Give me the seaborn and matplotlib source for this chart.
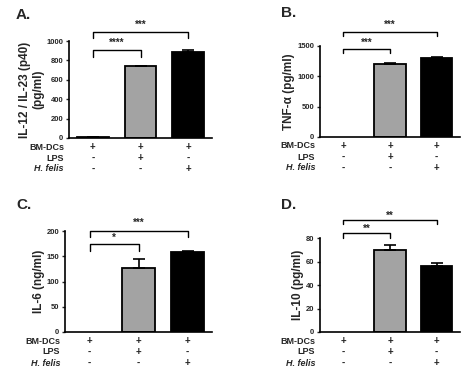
import matplotlib
matplotlib.use("Agg")
import matplotlib.pyplot as plt
import seaborn as sns
import pandas as pd
import numpy as np

sns.set_style("white")
plt.rcParams['font.family'] = ['Liberation Sans', 'DejaVu Sans']
plt.rcParams['font.weight'] = 'bold'

groups = ["ctrl", "LPS", "H. felis"]
row_labels = ["BM-DCs", "LPS", "H. felis"]
row_signs = [["+", "+", "+"], ["-", "+", "-"], ["-", "-", "+"]]
bar_colors = ["#ffffff", "#a3a3a3", "#000000"]

il12_mean = [8, 740, 885]
il12_err = [2, 5, 25]
tnf_mean = [0, 1200, 1305]
tnf_err = [0, 12, 6]
il6_mean = [0, 127, 158]
il6_err = [0, 18, 3]
il10_mean = [0, 70, 56]
il10_err = [0, 4, 3]

panels = [
    dict(letter="A.", mean=il12_mean, err=il12_err, ylim=1000, ticks=[0, 200, 400, 600, 800, 1000],
         ylabel="IL-12 / IL-23 (p40)\n(pg/ml)", box=(69, 212, 41, 138), letter_xy=(16, 15),
         sig=[("****", 1, 0.91, 0.84, 0.98), ("***", 2, 1.09, 1.03, 1.17)]),
    dict(letter="B.", mean=tnf_mean, err=tnf_err, ylim=1500, ticks=[0, 500, 1000, 1500],
         ylabel="TNF-α (pg/ml)", box=(320, 460, 46, 137), letter_xy=(281, 13),
         sig=[("***", 1, 0.97, 0.92, 1.03), ("***", 2, 1.15, 1.11, 1.23)]),
    dict(letter="C.", mean=il6_mean, err=il6_err, ylim=200, ticks=[0, 50, 100, 150, 200],
         ylabel="IL-6 (ng/ml)", box=(65, 212, 231, 332), letter_xy=(16, 205),
         sig=[("*", 1, 0.87, 0.80, 0.93), ("***", 2, 1.0, 0.94, 1.08)]),
    dict(letter="D.", mean=il10_mean, err=il10_err, ylim=80, ticks=[0, 20, 40, 60, 80],
         ylabel="IL-10 (pg/ml)", box=(320, 460, 238, 332), letter_xy=(281, 205),
         sig=[("**", 1, 1.05, 1.0, 1.10), ("**", 2, 1.19, 1.15, 1.24)]),
]

W, H = 474, 381
fig = plt.figure(figsize=(W / 100, H / 100), dpi=100)

for p in panels:
    l, r, t, b = p["box"]
    ax = fig.add_axes([l / W, 1 - b / H, (r - l) / W, (b - t) / H])
    df = pd.DataFrame({"group": groups, "value": p["mean"]})
    sns.barplot(data=df, x="group", y="value", hue="group", palette=bar_colors,
                order=groups, hue_order=groups, width=0.67, edgecolor="black",
                linewidth=1.3, legend=False, ax=ax, errorbar=None)
    for patch in ax.patches:
        if patch.get_height() == 0:
            patch.set_linewidth(0)
    xs = np.arange(3)
    mean = np.array(p["mean"], dtype=float)
    err = np.array(p["err"], dtype=float)
    m = err > 0
    ax.errorbar(xs[m], mean[m], yerr=[np.zeros(m.sum()), err[m]], fmt="none",
                ecolor="black", elinewidth=1.2, capsize=4.5, capthick=1.2)
    ax.set_xlim(-0.5, 2.5)
    ax.set_ylim(0, p["ylim"])
    ax.set_yticks(p["ticks"])
    ax.set_yticklabels([str(v) for v in p["ticks"]], fontsize=5.5, fontweight="bold")
    ax.set_xticks([])
    ax.set_xlabel("")
    ax.set_ylabel(p["ylabel"], fontsize=8.5, fontweight="bold", labelpad=1.5, linespacing=1.1)
    ax.tick_params(axis="y", direction="out", length=2.5, width=1, pad=1.5, left=True)
    for s in ["top", "right"]:
        ax.spines[s].set_visible(False)
    for s in ["left", "bottom"]:
        ax.spines[s].set_linewidth(1.2)
        ax.spines[s].set_color("black")
    # brackets
    tr = ax.get_xaxis_transform()
    for stars, j, ytop, ytick, ystar in p["sig"]:
        ax.plot([0, 0, j, j], [ytick, ytop, ytop, ytick], color="black", lw=1.0,
                transform=tr, clip_on=False)
        ax.text(j / 2, ystar, stars, transform=tr, ha="center", va="center",
                fontsize=7, fontweight="bold")
    # condition rows
    for i, (lab, signs) in enumerate(zip(row_labels, row_signs)):
        ypx = b + 9 + 11 * i
        yfrac = 1 - ypx / H
        style = "italic" if i == 2 else "normal"
        fig.text((l - 5) / W, yfrac, lab, ha="right", va="center", fontsize=6.5,
                 fontweight="bold", fontstyle=style)
        for k, sgn in enumerate(signs):
            xd = ax.transData.transform((k, 0))[0]
            fig.text(xd / fig.bbox.width, yfrac, sgn, ha="center", va="center",
                     fontsize=7, fontweight="bold")
    lx, ly = p["letter_xy"]
    fig.text(lx / W, 1 - ly / H, p["letter"], ha="left", va="center", fontsize=11,
             fontweight="bold")

fig.savefig("out.png", dpi=100)
